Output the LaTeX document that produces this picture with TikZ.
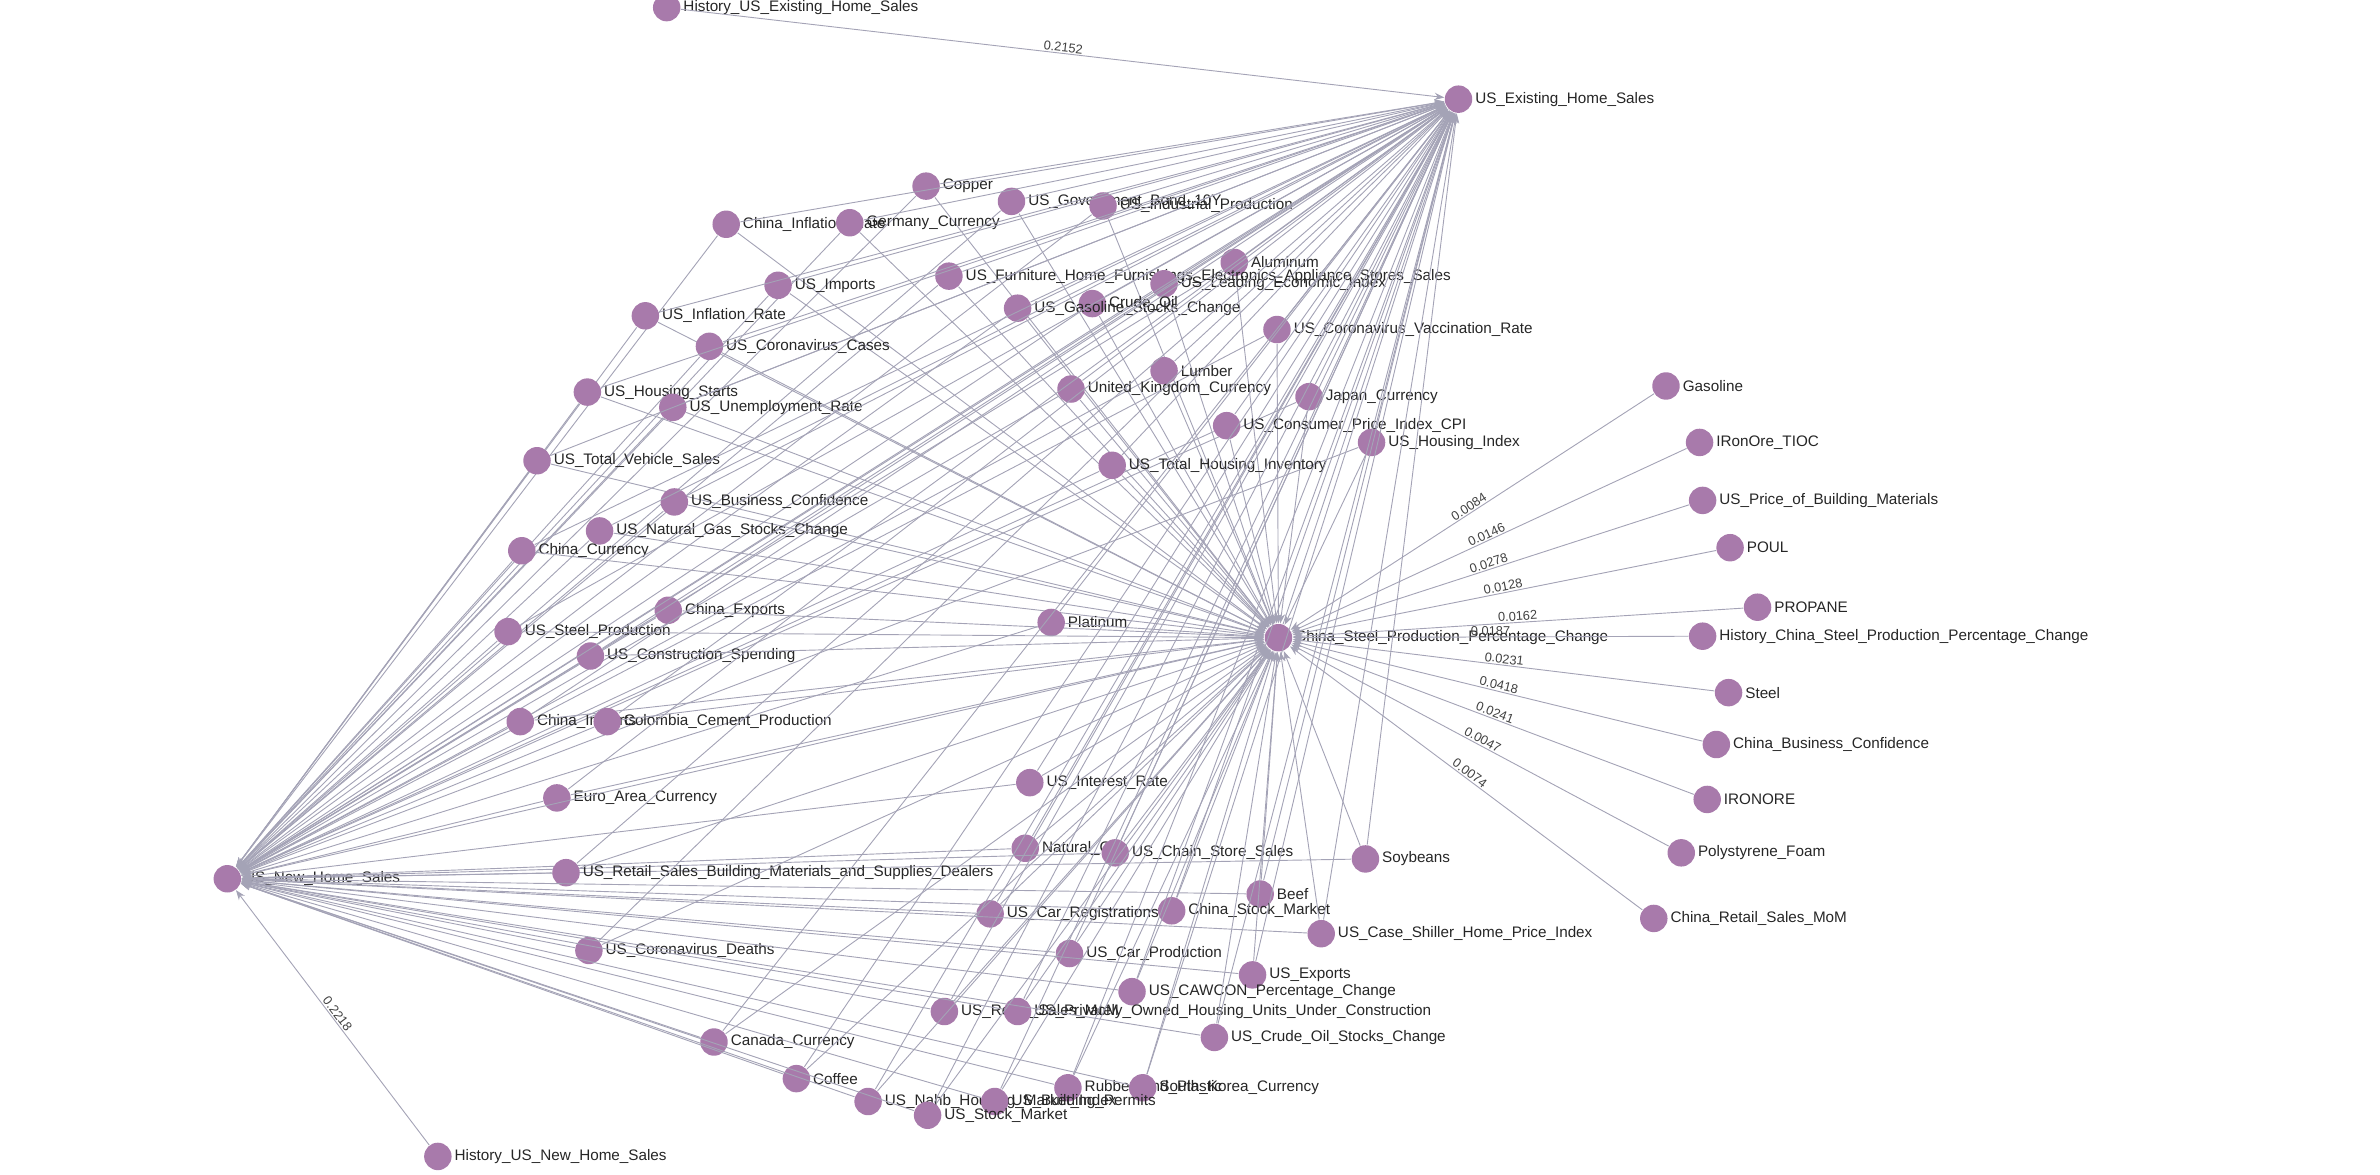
\documentclass[tikz,border=0pt]{standalone}
\usepackage{fontspec}
\setmainfont{Liberation Sans}
\usetikzlibrary{arrows.meta}
\definecolor{nodepurple}{HTML}{A87AAB}
\definecolor{edgegray}{HTML}{A4A3B6}
\tikzset{
  vertex/.style={circle, fill=nodepurple, minimum size=9pt, inner sep=0pt},
  lbl/.style={font=\fontsize{5}{6}\selectfont, text=black!85, inner sep=0.6pt},
  edge/.style={draw=edgegray, line width=0.3pt, -{Stealth[length=3.2pt,width=2.4pt]}},
  w/.style={font=\fontsize{4.2}{5}\selectfont, text=black!75, sloped, above, inner sep=0.4pt}
}
\begin{document}
\begin{tikzpicture}[x=0.5pt,y=-0.5pt]
\useasboundingbox (0,0) rectangle (1560,770);
% hubs
\node[vertex, label={[lbl]right:US\_Existing\_Home\_Sales}] (ex) at (956,65) {};
\node[vertex, label={[lbl]right:China\_Steel\_Production\_Percentage\_Change}] (cs) at (838,418) {};
\node[vertex, label={[lbl]right:US\_New\_Home\_Sales}] (nh) at (149,576) {};
\node[vertex, label={[lbl]right:History\_US\_Existing\_Home\_Sales}] (hex) at (437,5) {};
\node[vertex, label={[lbl]right:History\_US\_New\_Home\_Sales}] (hnh) at (287,758) {};

% nodes feeding all three hubs
\foreach \n/\x/\y/\t in {
  cu/607/122/Copper, gb/663/132/US\_Government\_Bond\_10Y, ip/723/135/US\_Industrial\_Production,
  cir/476/147/China\_Inflation\_Rate, gec/557/146/Germany\_Currency, al/809/172/Aluminum,
  im/510/187/US\_Imports, fur/622/181/US\_Furniture\_Home\_Furnishings\_Electronics\_Appliance\_Stores\_Sales,
  lei/763/186/US\_Leading\_Economic\_Index, co/716/199/Crude\_Oil, gsc/667/202/US\_Gasoline\_Stocks\_Change,
  uir/423/207/US\_Inflation\_Rate, vac/837/216/US\_Coronavirus\_Vaccination\_Rate,
  cc/465/227/US\_Coronavirus\_Cases, lu/763/243/Lumber, ukc/702/255/United\_Kingdom\_Currency,
  jc/858/260/Japan\_Currency, hs/385/257/US\_Housing\_Starts, ur/441/267/US\_Unemployment\_Rate,
  cpi/804/279/US\_Consumer\_Price\_Index\_CPI, hi/899/290/US\_Housing\_Index,
  tvs/352/302/US\_Total\_Vehicle\_Sales, thi/729/305/US\_Total\_Housing\_Inventory,
  bc/442/329/US\_Business\_Confidence, ngs/393/348/US\_Natural\_Gas\_Stocks\_Change,
  cnc/342/361/China\_Currency, ce/438/400/China\_Exports, pt/689/408/Platinum,
  sp/333/414/US\_Steel\_Production, cs2/387/430/US\_Construction\_Spending,
  ci/341/473/China\_Imports, ccp/398/473/Colombia\_Cement\_Production,
  int/675/513/US\_Interest\_Rate, euc/365/523/Euro\_Area\_Currency, ng/672/556/Natural\_Gas,
  css/731/559/US\_Chain\_Store\_Sales, soy/895/563/Soybeans,
  rsb/371/572/US\_Retail\_Sales\_Building\_Materials\_and\_Supplies\_Dealers,
  bf/826/586/Beef, csm/768/597/China\_Stock\_Market, car/649/599/US\_Car\_Registrations,
  shi/866/612/US\_Case\_Shiller\_Home\_Price\_Index, cd/386/623/US\_Coronavirus\_Deaths,
  cp/701/625/US\_Car\_Production, exp/821/639/US\_Exports, caw/742/650/US\_CAWCON\_Percentage\_Change,
  rsm/619/663/US\_Retail\_Sales\_MoM, pou/667/663/US\_Privately\_Owned\_Housing\_Units\_Under\_Construction,
  cos/796/680/US\_Crude\_Oil\_Stocks\_Change, cac/468/683/Canada\_Currency, cf/522/707/Coffee,
  rp/700/713/Rubber\_and\_Plastic, skc/749/713/South\_Korea\_Currency,
  nahb/569/722/US\_Nahb\_Housing\_Market\_Index, bp/652/722/US\_Building\_Permits,
  sm/608/731/US\_Stock\_Market}
{
  \node[vertex, label={[lbl]right:\t}] (\n) at (\x,\y) {};
  \draw[edge] (\n) -- (ex);
  \draw[edge] (\n) -- (cs);
  \draw[edge] (\n) -- (nh);
}

% nodes feeding the steel hub only
\foreach \n/\x/\y/\t/\v in {
  gas/1092/253/Gasoline/0.0084, tioc/1114/290/IRonOre\_TIOC/0.0146,
  pbm/1116/328/US\_Price\_of\_Building\_Materials/0.0278, poul/1134/359/POUL/0.0128,
  prop/1152/398/PROPANE/0.0162, hcs/1116/417/History\_China\_Steel\_Production\_Percentage\_Change/0.0187,
  st/1133/454/Steel/0.0231, cbc/1125/488/China\_Business\_Confidence/0.0418,
  ore/1119/524/IRONORE/0.0241, pf/1102/559/Polystyrene\_Foam/0.0047,
  crs/1084/602/China\_Retail\_Sales\_MoM/0.0074}
{
  \node[vertex, label={[lbl]right:\t}] (\n) at (\x,\y) {};
  \draw[edge] (\n) -- node[w, pos=0.5] {\v} (cs);
}

% hub links
\draw[edge] (cs) -- (ex);
\draw[edge] (nh) -- (ex);
\draw[edge] (nh) -- (cs);
\draw[edge] (hex) -- node[w] {0.2152} (ex);
\draw[edge] (hnh) -- node[w] {0.2218} (nh);
\end{tikzpicture}
\end{document}
